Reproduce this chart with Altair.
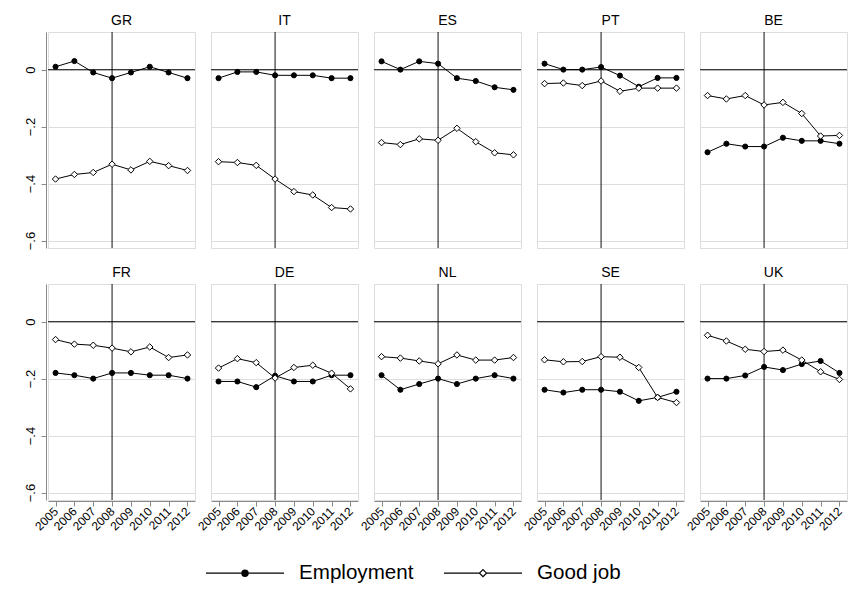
import altair as alt
import pandas as pd

countries = ["GR", "IT", "ES", "PT", "BE", "FR", "DE", "NL", "SE", "UK"]
years = [2005, 2006, 2007, 2008, 2009, 2010, 2011, 2012]
series_names = ["Employment", "Good job"]

GR_emp = [0.010, 0.030, -0.010, -0.030, -0.010, 0.010, -0.010, -0.030]
GR_good = [-0.384, -0.368, -0.361, -0.332, -0.352, -0.322, -0.337, -0.354]
IT_emp = [-0.030, -0.008, -0.008, -0.020, -0.020, -0.020, -0.030, -0.030]
IT_good = [-0.323, -0.326, -0.336, -0.384, -0.428, -0.440, -0.484, -0.489]
ES_emp = [0.029, 0.000, 0.029, 0.021, -0.030, -0.040, -0.062, -0.071]
ES_good = [-0.256, -0.263, -0.243, -0.248, -0.206, -0.253, -0.292, -0.299]
PT_emp = [0.021, 0.000, 0.000, 0.009, -0.021, -0.060, -0.029, -0.029]
PT_good = [-0.049, -0.047, -0.056, -0.040, -0.076, -0.065, -0.065, -0.065]
BE_emp = [-0.290, -0.260, -0.270, -0.270, -0.239, -0.250, -0.250, -0.260]
BE_good = [-0.091, -0.103, -0.091, -0.124, -0.115, -0.154, -0.233, -0.231]
FR_emp = [-0.180, -0.188, -0.200, -0.180, -0.180, -0.188, -0.188, -0.200]
FR_good = [-0.063, -0.079, -0.083, -0.093, -0.106, -0.089, -0.126, -0.117]
DE_emp = [-0.210, -0.210, -0.230, -0.190, -0.210, -0.210, -0.188, -0.188]
DE_good = [-0.163, -0.130, -0.144, -0.198, -0.161, -0.153, -0.181, -0.236]
NL_emp = [-0.188, -0.239, -0.219, -0.200, -0.219, -0.200, -0.188, -0.200]
NL_good = [-0.123, -0.128, -0.138, -0.148, -0.117, -0.135, -0.135, -0.126]
SE_emp = [-0.239, -0.249, -0.239, -0.239, -0.246, -0.278, -0.266, -0.246]
SE_good = [-0.134, -0.141, -0.140, -0.123, -0.125, -0.161, -0.266, -0.284]
UK_emp = [-0.200, -0.200, -0.189, -0.159, -0.170, -0.149, -0.138, -0.180]
UK_good = [-0.048, -0.068, -0.097, -0.105, -0.100, -0.135, -0.176, -0.203]

emp_lists = [GR_emp, IT_emp, ES_emp, PT_emp, BE_emp, FR_emp, DE_emp, NL_emp, SE_emp, UK_emp]
good_lists = [GR_good, IT_good, ES_good, PT_good, BE_good, FR_good, DE_good, NL_good, SE_good, UK_good]

rows = []
for c, e, g in zip(countries, emp_lists, good_lists):
    for yr, ve, vg in zip(years, e, g):
        rows.append({"country": c, "year": yr, "series": series_names[0], "value": ve})
        rows.append({"country": c, "year": yr, "series": series_names[1], "value": vg})
df = pd.DataFrame(rows)

FONT = "Liberation Sans"

x_scale = alt.Scale(type="point", domain=years, padding=0.4)
x_axis = alt.Axis(labelAngle=-45, labelAlign="right", labelBaseline="middle", grid=False,
                  labelFontSize=12, labelPadding=3, labelOverlap=False, labelBound=False)
x_enc = alt.X("year:O", scale=x_scale, axis=x_axis, title=None)

y_scale = alt.Scale(domain=[-0.626, 0.132], nice=False, zero=False)
y_axis = alt.Axis(values=[0, -0.2, -0.4, -0.6],
                  labelExpr="datum.value == 0 ? '0' : replace(format(datum.value, '.1f'), '0.', '.')",
                  labelAngle=-90, labelAlign="center", labelBaseline="bottom",
                  grid=True, labelFontSize=13, labelPadding=4, labelOverlap=False)
y_enc = alt.Y("value:Q", scale=y_scale, axis=y_axis, title=None)

base = alt.Chart(df)

one = base.transform_filter((alt.datum.year == 2005) & (alt.datum.series == "Employment"))
rule0 = one.mark_rule(color="#3a3a3a", strokeWidth=1.3).encode(
    y=alt.Y(datum=0, type="quantitative", scale=y_scale, axis=y_axis, title=None))
rule08 = one.mark_rule(color="#111111", strokeWidth=1).encode(
    x=alt.X(datum=2008, type="ordinal", scale=x_scale, axis=x_axis, title=None))

lines = base.mark_line(color="black", strokeWidth=1).encode(x=x_enc, y=y_enc, detail="series:N")

emp_pts = base.transform_filter(alt.datum.series == series_names[0]).mark_point(
    shape="circle", filled=True, fill="black", stroke="black", strokeWidth=1, size=26, opacity=1
).encode(x=x_enc, y=y_enc)
good_pts = base.transform_filter(alt.datum.series == series_names[1]).mark_point(
    shape="diamond", filled=True, fill="white", stroke="black", strokeWidth=1, size=42, opacity=1
).encode(x=x_enc, y=y_enc)

# legend glyphs: a line with the marker in its middle (drawn wider than the layout box)
emp_path = "M-3,0H3M-0.24,0A0.24,0.24 0 1,0 0.24,0A0.24,0.24 0 1,0 -0.24,0Z"
good_path = "M-3,0H-0.27M0.27,0H3M-0.27,0L0,-0.27L0.27,0L0,0.27Z"

leg = alt.Legend(title=None, orient="none", legendX=183, legendY=527, direction="horizontal",
                 symbolSize=676, labelFontSize=20.6, labelFont=FONT, labelOffset=40,
                 columnPadding=27, symbolStrokeWidth=1.2, labelColor="black")

legend_layer = base.transform_filter("false").mark_point(
    filled=True, opacity=1, strokeWidth=1.2, size=676
).encode(
    x=x_enc,
    y=y_enc,
    shape=alt.Shape("series:N", scale=alt.Scale(domain=series_names, range=[emp_path, good_path]), legend=leg),
    fill=alt.Fill("series:N", scale=alt.Scale(domain=series_names, range=["black", "white"]), legend=leg),
    stroke=alt.Stroke("series:N", scale=alt.Scale(domain=series_names, range=["black", "black"]), legend=leg),
)

panel = alt.layer(rule0, rule08, lines, emp_pts, good_pts, legend_layer).properties(width=147, height=216)

chart = panel.facet(
    facet=alt.Facet("country:N", sort=countries,
                    header=alt.Header(title=None, labelFontSize=14, labelFont=FONT,
                                      labelColor="black", labelPadding=4)),
    columns=5,
    spacing={"row": 16, "column": 12},
).properties(
    padding={"left": 16, "top": 5, "right": 5, "bottom": 5},
).configure_view(
    stroke="#333333", strokeWidth=1
).configure_axis(
    labelFont=FONT, labelColor="black", tickColor="#333333", tickSize=5,
    domain=False, gridColor="#e8e8e8", gridWidth=1.5,
).configure(
    background="white"
)

chart.save("out.html", embed_options={"renderer": "svg", "actions": False})
